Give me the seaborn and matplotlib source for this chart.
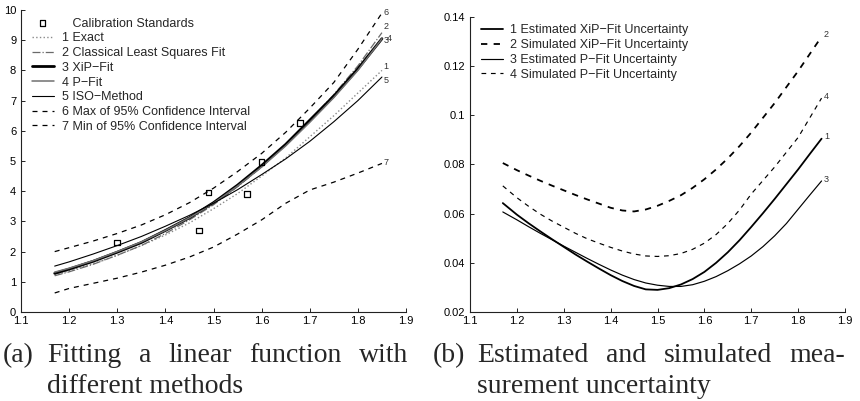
import numpy as np
import pandas as pd
import matplotlib
matplotlib.use("Agg")
import matplotlib.pyplot as plt
from matplotlib.ticker import FuncFormatter
import seaborn as sns

# ---------------- data: panel (a) ----------------
x_fit = [1.17, 1.20, 1.25, 1.30, 1.35, 1.40, 1.45, 1.50, 1.55, 1.60, 1.65, 1.70, 1.75, 1.80, 1.85]
exact = [1.22, 1.36, 1.60, 1.88, 2.20, 2.55, 2.95, 3.42, 3.92, 4.50, 5.10, 5.80, 6.50, 7.25, 8.00]
cls_fit = [1.20, 1.33, 1.58, 1.88, 2.20, 2.60, 3.05, 3.55, 4.15, 4.80, 5.55, 6.35, 7.20, 8.15, 9.25]
xip_fit = [1.28, 1.42, 1.68, 1.98, 2.30, 2.70, 3.12, 3.62, 4.20, 4.85, 5.55, 6.35, 7.15, 8.05, 9.05]
p_fit = [1.32, 1.45, 1.70, 2.00, 2.32, 2.70, 3.12, 3.60, 4.17, 4.80, 5.50, 6.28, 7.10, 8.00, 9.05]
iso = [1.52, 1.66, 1.92, 2.20, 2.50, 2.84, 3.20, 3.60, 4.05, 4.55, 5.07, 5.65, 6.30, 7.00, 7.78]
ci_max = [2.00, 2.13, 2.35, 2.60, 2.88, 3.22, 3.62, 4.10, 4.65, 5.25, 5.95, 6.75, 7.60, 8.70, 9.90]
ci_min = [0.63, 0.78, 0.95, 1.12, 1.32, 1.55, 1.82, 2.15, 2.58, 3.05, 3.60, 4.04, 4.30, 4.60, 4.92]
std_x = [1.30, 1.47, 1.49, 1.57, 1.60, 1.68]
std_y = [2.30, 2.70, 3.95, 3.90, 4.97, 6.26]
labels_a = ["1 Exact", "2 Classical Least Squares Fit", "3 XiP\u2212Fit", "4 P\u2212Fit",
            "5 ISO\u2212Method", "6 Max of 95% Confidence Interval", "7 Min of 95% Confidence Interval"]
xticks = [1.1, 1.2, 1.3, 1.4, 1.5, 1.6, 1.7, 1.8, 1.9]
yticks_a = [0, 1, 2, 3, 4, 5, 6, 7, 8, 9, 10]

# ---------------- data: panel (b) ----------------
x_unc = [1.170, 1.200, 1.225, 1.250, 1.275, 1.300, 1.325, 1.350, 1.375, 1.400, 1.425, 1.450, 1.475, 1.500,
         1.525, 1.550, 1.575, 1.600, 1.625, 1.650, 1.675, 1.700, 1.725, 1.750, 1.775, 1.800, 1.825, 1.850]
est_xip = [0.0643, 0.0596, 0.0561, 0.0528, 0.0496, 0.0465, 0.0434, 0.0405, 0.0377, 0.0350, 0.0326, 0.0306, 0.0292, 0.0290,
           0.0297, 0.0312, 0.0334, 0.0363, 0.0400, 0.0443, 0.0492, 0.0546, 0.0602, 0.0660, 0.0720, 0.0780, 0.0843, 0.0905]
sim_xip = [0.0806, 0.0777, 0.0755, 0.0734, 0.0714, 0.0695, 0.0676, 0.0658, 0.0641, 0.0624, 0.0613, 0.0609, 0.0617, 0.0632,
           0.0652, 0.0675, 0.0705, 0.0740, 0.0780, 0.0825, 0.0875, 0.0930, 0.0990, 0.1050, 0.1115, 0.1180, 0.1250, 0.1320]
est_p = [0.0607, 0.0575, 0.0547, 0.0520, 0.0494, 0.0468, 0.0443, 0.0418, 0.0394, 0.0371, 0.0350, 0.0332, 0.0318, 0.0309,
         0.0304, 0.0304, 0.0311, 0.0325, 0.0344, 0.0368, 0.0396, 0.0428, 0.0466, 0.0510, 0.0560, 0.0618, 0.0676, 0.0733]
sim_p = [0.0713, 0.0665, 0.0630, 0.0598, 0.0570, 0.0545, 0.0520, 0.0498, 0.0480, 0.0463, 0.0448, 0.0436, 0.0428, 0.0426,
         0.0429, 0.0438, 0.0455, 0.0480, 0.0515, 0.0560, 0.0615, 0.0680, 0.0735, 0.0790, 0.0850, 0.0910, 0.0990, 0.1070]
labels_b = ["1 Estimated XiP\u2212Fit Uncertainty", "2 Simulated XiP\u2212Fit Uncertainty",
            "3 Estimated P\u2212Fit Uncertainty", "4 Simulated P\u2212Fit Uncertainty"]
yticks_b = [0.02, 0.04, 0.06, 0.08, 0.10, 0.12, 0.14]

caption_a1 = ["Fitting", "a", "linear", "function", "with"]
caption_a2 = "different methods"
caption_b1 = ["Estimated", "and", "simulated", "mea-"]
caption_b2 = "surement uncertainty"

# ---------------- style ----------------
sns.set_style("ticks")
plt.rcParams["font.family"] = ["Liberation Sans", "DejaVu Sans"]
plt.rcParams["axes.linewidth"] = 0.8
plt.rcParams["axes.edgecolor"] = "#222222"

W, H = 860, 401
fig = plt.figure(figsize=(W / 100, H / 100), dpi=100)
ax1 = fig.add_axes([21 / W, 1 - 312 / H, (406 - 21) / W, (312 - 10) / H])
ax2 = fig.add_axes([470 / W, 1 - 312 / H, (845 - 470) / W, (312 - 17) / H])

# ---- panel (a) ----
styles_a = [
    dict(color="#8a8a8a", linestyle=":", linewidth=1.0),
    dict(color="#6a6a6a", linestyle="-.", linewidth=0.9),
    dict(color="black", linestyle="-", linewidth=2.0),
    dict(color="#707070", linestyle="-", linewidth=1.1),
    dict(color="black", linestyle="-", linewidth=0.8),
    dict(color="black", linestyle=(0, (4, 4)), linewidth=0.9),
    dict(color="black", linestyle=(0, (4, 4)), linewidth=0.9),
]
series_a = [exact, cls_fit, xip_fit, p_fit, iso, ci_max, ci_min]
df_std = pd.DataFrame({"x": std_x, "y": std_y})
sns.scatterplot(data=df_std, x="x", y="y", ax=ax1, marker="s", s=16, facecolor="none",
                edgecolor="black", linewidth=0.9, label="   Calibration Standards", zorder=5)
for ys, lab, st in zip(series_a, labels_a, styles_a):
    sns.lineplot(x=x_fit, y=ys, ax=ax1, label=lab, sort=False, estimator=None, **st)

ax1.set_xlim(1.1, 1.9)
ax1.set_ylim(0, 10)
ax1.set_xticks(xticks)
ax1.set_yticks(yticks_a)
ax1.xaxis.set_major_formatter(FuncFormatter(lambda v, p: f"{v:g}"))

end_off_a = [(0.003, 0.12), (0.003, 0.2), (0.003, -0.05), (0.011, 0.02), (0.003, -0.1), (0.003, 0.02), (0.003, 0.03)]
for i, (ys, off) in enumerate(zip(series_a, end_off_a)):
    ax1.text(x_fit[-1] + off[0], ys[-1] + off[1], str(i + 1), fontsize=6.5, color="#333333",
             ha="left", va="center")

h, l = ax1.get_legend_handles_labels()
ax1.legend(h, l, loc="upper left", bbox_to_anchor=(0.028, 0.975), frameon=False, borderpad=0,
           borderaxespad=0, fontsize=9, handlelength=1.75, handletextpad=0.7, labelspacing=0.22)

# ---- panel (b) ----
styles_b = [
    dict(color="black", linestyle="-", linewidth=1.3),
    dict(color="black", linestyle=(0, (3.5, 3.5)), linewidth=1.3),
    dict(color="black", linestyle="-", linewidth=0.85),
    dict(color="black", linestyle=(0, (4, 4)), linewidth=0.85),
]
series_b = [est_xip, sim_xip, est_p, sim_p]
for ys, lab, st in zip(series_b, labels_b, styles_b):
    sns.lineplot(x=x_unc, y=ys, ax=ax2, label=lab, sort=False, estimator=None, **st)
ax2.set_xlim(1.1, 1.9)
ax2.set_ylim(0.02, 0.14)
ax2.set_xticks(xticks)
ax2.set_yticks(yticks_b)
ax2.xaxis.set_major_formatter(FuncFormatter(lambda v, p: f"{v:g}"))
ax2.yaxis.set_major_formatter(FuncFormatter(lambda v, p: f"{round(v, 4):g}"))
for i, ys in enumerate(series_b):
    ax2.text(x_unc[-1] + 0.005, ys[-1] + 0.0008, str(i + 1), fontsize=6.5, color="#333333",
             ha="left", va="center")
h, l = ax2.get_legend_handles_labels()
ax2.legend(h, l, loc="upper left", bbox_to_anchor=(0.029, 0.975), frameon=False, borderpad=0,
           borderaxespad=0, fontsize=9, handlelength=1.75, handletextpad=0.6, labelspacing=0.22)

for ax in (ax1, ax2):
    sns.despine(ax=ax)
    ax.set_xlabel("")
    ax.set_ylabel("")
    ax.tick_params(direction="in", length=3, width=0.7, labelsize=8, colors="#222222",
                   labelcolor="black")
    ax.tick_params(axis="x", pad=3.2)
    ax.tick_params(axis="y", pad=3.5)

# ---- captions: first line justified between measured edges ----
cap_font = dict(family=["Liberation Serif", "DejaVu Serif"], fontsize=20)
renderer = fig.canvas.get_renderer()


def justified(words, x0, x1, base):
    texts = [fig.text(0, 1 - base / H, w, ha="left", va="baseline", **cap_font) for w in words]
    widths = [t.get_window_extent(renderer).width for t in texts]
    gap = (x1 - x0 - sum(widths)) / (len(words) - 1)
    xp = x0
    for t, wd in zip(texts, widths):
        t.set_x(xp / W)
        xp += wd + gap


fig.text(3 / W, 1 - 362 / H, "(a)", ha="left", va="baseline", **cap_font)
fig.text(433 / W, 1 - 362 / H, "(b)", ha="left", va="baseline", **cap_font)
justified(caption_a1, 47, 408, 362)
justified(caption_b1, 477, 845, 362)
fig.text(47 / W, 1 - 393 / H, caption_a2, ha="left", va="baseline", **cap_font)
fig.text(477 / W, 1 - 393 / H, caption_b2, ha="left", va="baseline", **cap_font)

fig.savefig("out.png", dpi=100)
